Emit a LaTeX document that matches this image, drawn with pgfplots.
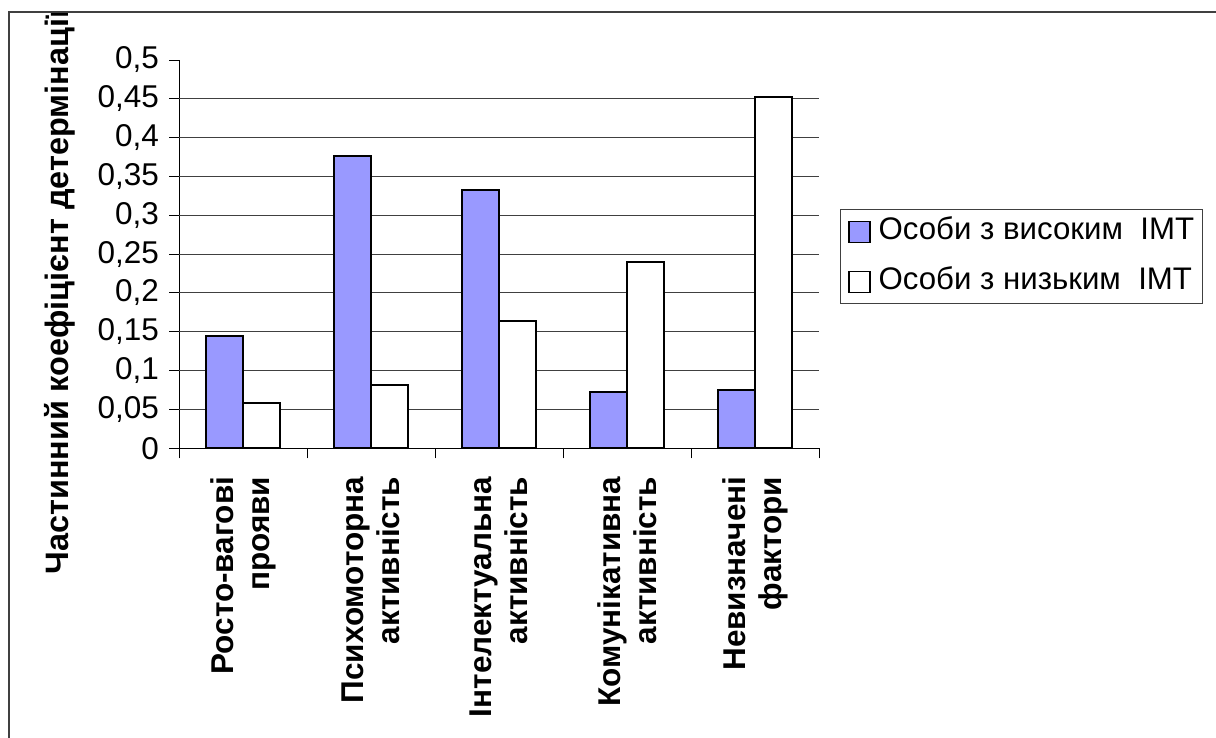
\documentclass[border=0pt]{standalone}
\usepackage{fontspec}
\setmainfont{Liberation Sans}
\usepackage{pgfplots}
\pgfplotsset{compat=1.18}
\definecolor{barblue}{HTML}{9999FF}
\begin{document}
\fontsize{15}{17.25}\selectfont
\begin{tikzpicture}
\useasboundingbox (-89.65pt,-144.85pt) rectangle (518.35pt,224.15pt);
\begin{axis}[
  at={(0,0)}, anchor=south west,
  scale only axis, width=320pt, height=194.15pt,
  xmin=-0.5, xmax=4.5, ymin=0, ymax=0.5,
  axis x line*=bottom, axis y line*=left,
  axis line style={line width=0.5pt, black},
  tick align=outside, major tick length=5pt,
  tick style={black, line width=0.5pt},
  xtick={-0.5,0.5,1.5,2.5,3.5,4.5},
  x tick label as interval,
  xticklabels={{Росто-вагові\\прояви},{Психомоторна\\активність},{Інтелектуальна\\активність},{Комунікативна\\активність},{Невизначені\\фактори}},
  xticklabel style={rotate=90, anchor=east, align=right, inner xsep=9pt, font=\bfseries\fontsize{15.75}{18}\selectfont},
  ytick={0,0.05,0.1,0.15,0.2,0.25,0.3,0.35,0.4,0.45,0.5},
  yticklabels={0,{0,05},{0,1},{0,15},{0,2},{0,25},{0,3},{0,35},{0,4},{0,45},{0,5}},
  yticklabel style={font=\fontsize{15.75}{18}\selectfont, inner xsep=5pt},
  extra y ticks={0.05,0.1,0.15,0.2,0.25,0.3,0.35,0.4,0.45},
  extra y tick labels={},
  extra y tick style={grid=major, major grid style={black!75, line width=0.5pt}, major tick length=0pt},
  ybar=0pt, bar width=18.5pt,
  legend style={at={(1.0323,0.6155)}, anchor=north west, draw=black!75, line width=0.5pt,
    font=\fontsize{15.6}{18}\selectfont, inner xsep=4pt, inner ysep=4pt, row sep=11pt,
    nodes={inner sep=0pt, text height=11pt, text depth=3pt},
    /tikz/every odd column/.append style={column sep=4pt},
    /tikz/every even column/.append style={column sep=3pt}},
  legend cell align=left,
  legend image code/.code={\draw[#1, line width=0.6pt] (0pt,-5.25pt) rectangle (10.5pt,5.25pt);},
]
\addplot[fill=barblue, draw=black, line width=1pt] coordinates {(0,0.144) (1,0.377) (2,0.333) (3,0.072) (4,0.075)};
\addplot[fill=white, draw=black, line width=1pt] coordinates {(0,0.058) (1,0.082) (2,0.164) (3,0.240) (4,0.453)};
\legend{Особи з високим\ \ ІМТ, Особи з низьким\ \ ІМТ}
\end{axis}
\begin{scope}
\clip (-85.15pt,-144.85pt) rectangle (518.35pt,218.15pt);
\node[rotate=90, anchor=west, font=\bfseries\fontsize{16.2}{18}\selectfont, inner sep=0pt] at (-59.65pt,-63.35pt) {Частинний коефіцієнт детермінації};
\end{scope}
\draw[line width=1pt, black!75] (-85.15pt,-144.85pt) -- (-85.15pt,218.15pt) -- (518.35pt,218.15pt);
\end{tikzpicture}
\end{document}
